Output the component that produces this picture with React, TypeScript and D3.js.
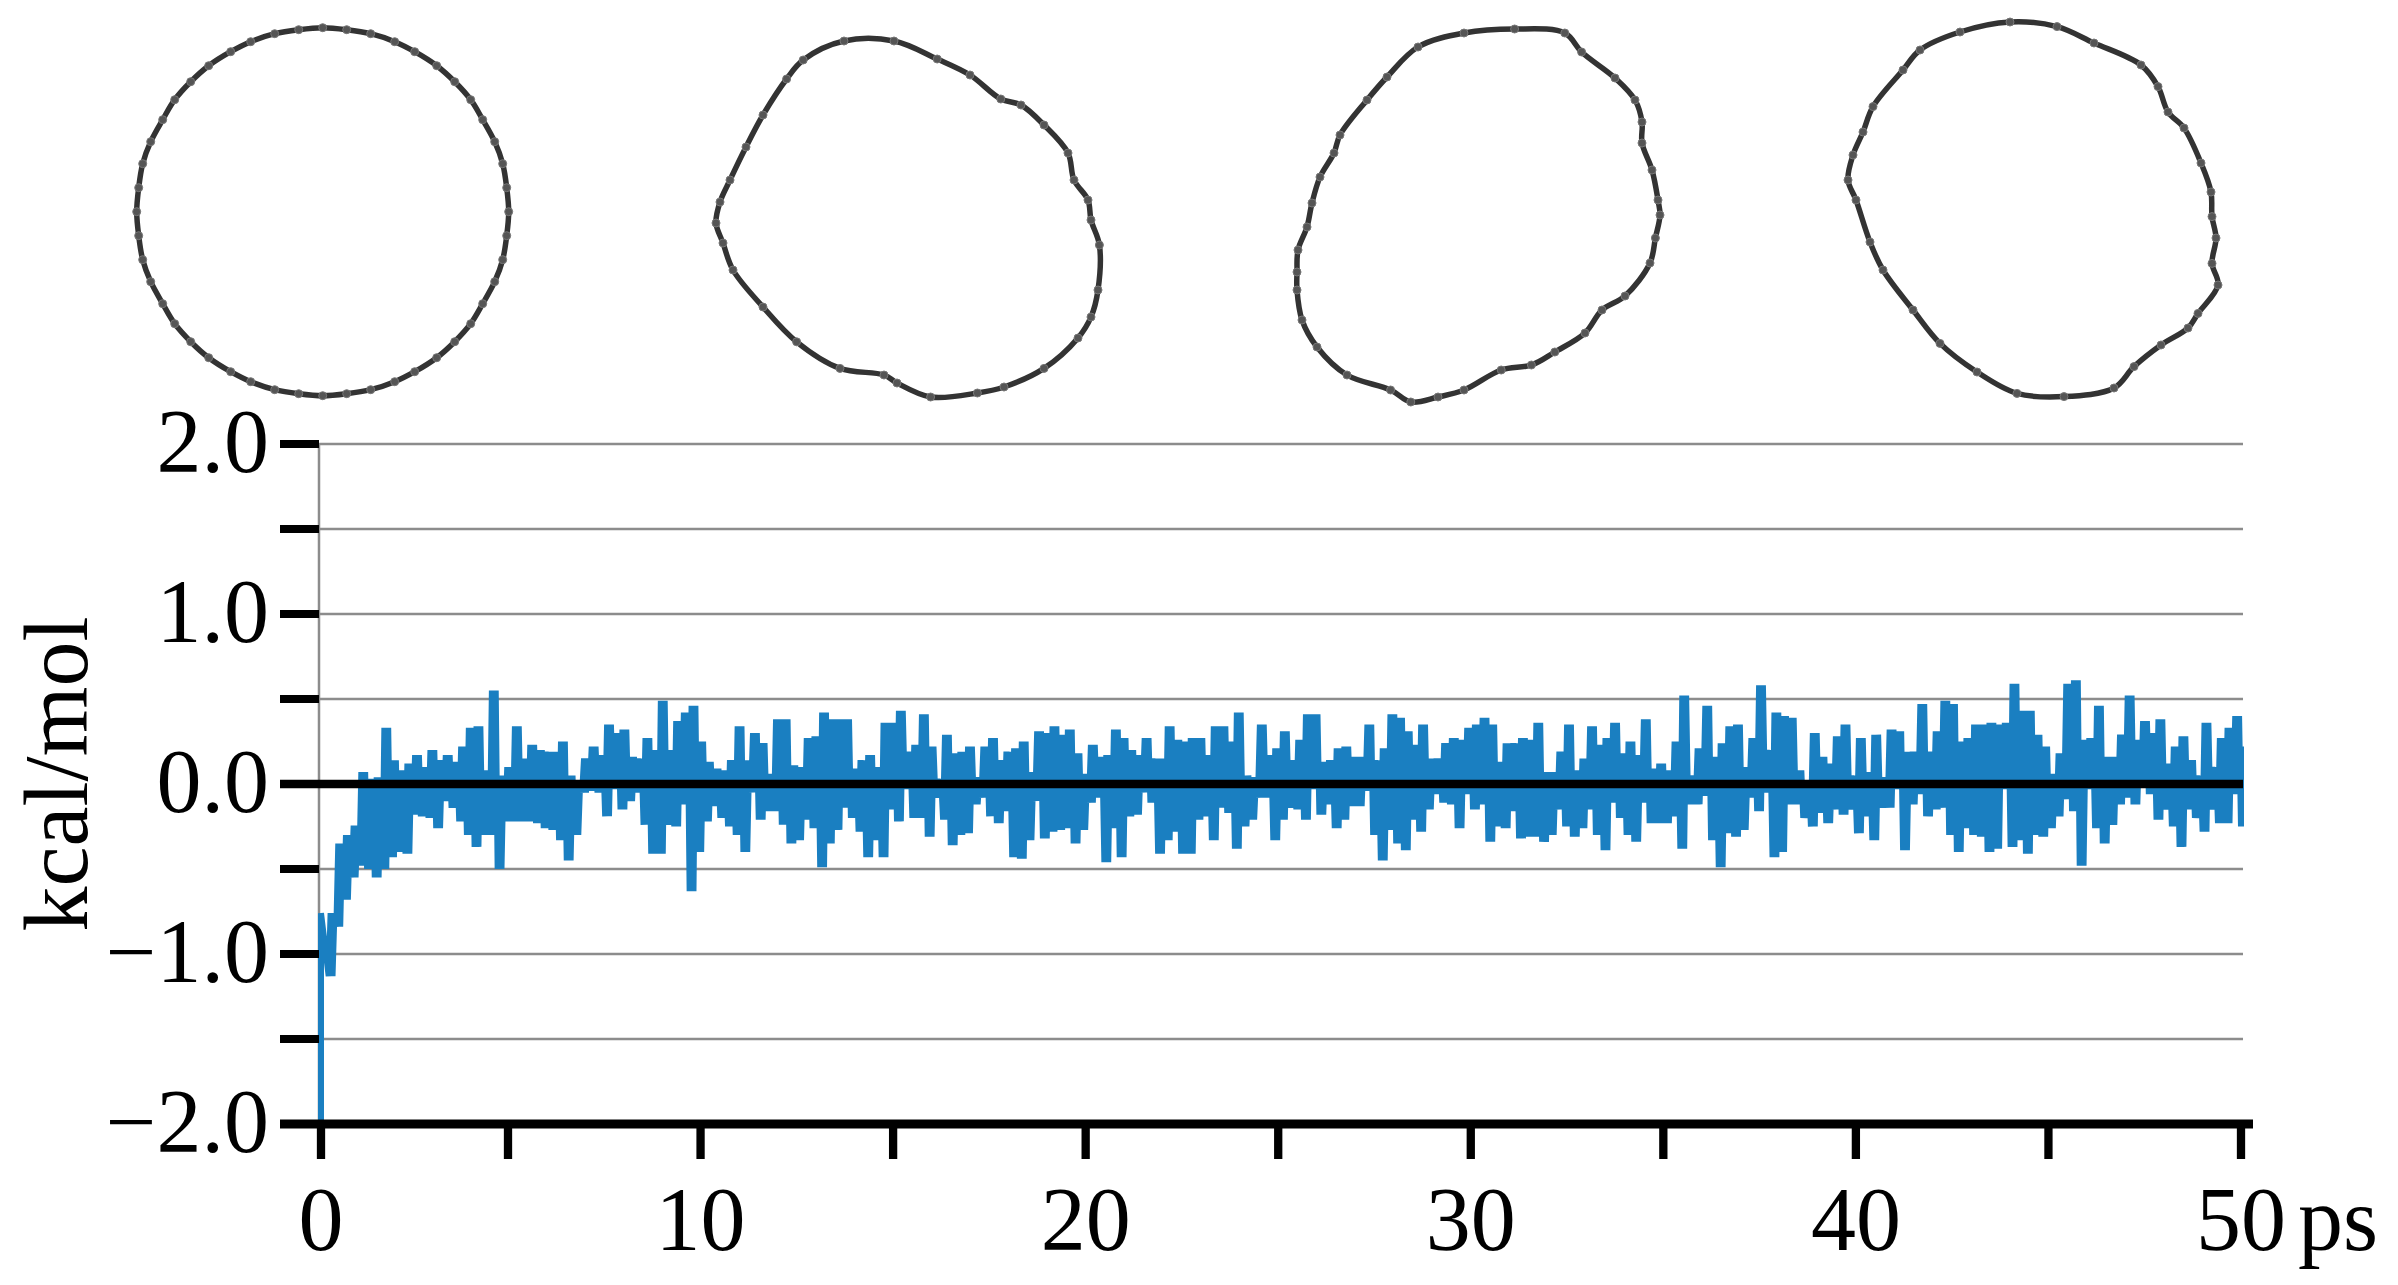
import React from "react";
import * as d3 from "d3";

// kcal/mol trace, every 0.2 ps: highest and lowest value of each short stretch
const upperA = [-0.76,-0.76,-0.35,-0.30,-0.245,0.07,0.03,0.04,0.33,0.14,0.08,0.12,0.17,0.10,0.20,0.14,0.17,0.13,0.22,0.33,0.34,0.08,0.55,0.05,0.10,0.34,0.15,0.23,0.20,0.19,0.19,0.25,0.05,0.02,0.15,0.22,0.17,0.35,0.30,0.32,0.16,0.15,0.27];
const lowerA = [-2.0,-1.13,-0.84,-0.68,-0.55,-0.48,-0.50,-0.55,-0.50,-0.43,-0.40,-0.41,-0.18,-0.19,-0.20,-0.26,-0.10,-0.14,-0.22,-0.30,-0.37,-0.30,-0.30,-0.50,-0.22,-0.22,-0.22,-0.22,-0.23,-0.26,-0.27,-0.33,-0.45,-0.30,-0.05,-0.04,-0.05,-0.19,-0.03,-0.15,-0.10,-0.05,-0.24];
const upperB = [.20,.49,.20,.37,.42,.46,.25,.13,.09,.08,.14,.34,.14,.30,.24,.06,.38,.38,.11,.10,.27,.28,.42,.38,.38,.38,.09,.14,.17,.10,.36,.36,.43,.19,.23,.41,.22,.03,.29,.18,.19];
const lowerB = [-.41,-.41,-.24,-.25,-.12,-.63,-.40,-.22,-.13,-.20,-.25,-.30,-.40,-.05,-.21,-.16,-.16,-.24,-.35,-.33,-.21,-.26,-.49,-.35,-.27,-.14,-.20,-.28,-.43,-.33,-.43,-.15,-.22,-.03,-.20,-.20,-.31,-.08,-.21,-.36,-.30];
const upperC = [.22,.04,.22,.27,.14,.19,.21,.25,.07,.31,.30,.34,.29,.32,.18,.06,.23,.16,.17,.32,.27,.20,.17,.27,.15,.15,.34,.26,.25,.27,.27,.17,.34,.34,.25,.42,.05,.04,.35,.17,.21,.31];
const lowerC = [-.29,-.12,-.08,-.19,-.23,-.16,-.43,-.44,-.33,-.10,-.32,-.28,-.27,-.26,-.35,-.27,-.11,-.08,-.46,-.26,-.43,-.19,-.18,-.05,-.11,-.41,-.33,-.28,-.41,-.41,-.21,-.19,-.33,-.14,-.17,-.38,-.25,-.21,-.08,-.08,-.33,-.21];
const upperD = [.14,.26,.41,.41,.13,.14,.21,.22,.16,.16,.35,.14,.21,.41,.39,.31,.23,.35,.15,.15,.24,.27,.26,.33,.35,.39,.35,.13,.24,.24,.27,.26,.36,.07,.07,.19,.35,.08,.15,.34,.23];
const lowerD = [-.14,-.15,-.21,-.03,-.18,-.12,-.26,-.21,-.13,-.13,-.04,-.30,-.45,-.27,-.35,-.39,-.21,-.28,-.15,-.06,-.11,-.12,-.26,-.06,-.15,-.12,-.34,-.25,-.26,-.16,-.32,-.31,-.31,-.34,-.30,-.15,-.25,-.31,-.26,-.15,-.30];
const upperE = [.27,.36,.18,.25,.17,.38,.09,.12,.08,.25,.52,.05,.21,.46,.16,.24,.34,.35,.10,.27,.58,.20,.42,.40,.39,.08,.02,.30,.16,.12,.28,.35,.05,.27,.07,.29,.04,.32,.31,.19,.19,.47];
const lowerE = [-.39,-.11,-.20,-.30,-.34,-.11,-.23,-.23,-.23,-.19,-.38,-.12,-.12,-.07,-.33,-.49,-.29,-.31,-.27,-.08,-.16,-.05,-.43,-.40,-.12,-.12,-.20,-.25,-.17,-.23,-.15,-.18,-.15,-.29,-.19,-.33,-.14,-.14,-.03,-.39,-.12,-.06];
const upperF = [.19,.31,.49,.47,.25,.27,.35,.35,.36,.35,.36,.59,.43,.43,.29,.22,.06,.18,.59,.61,.26,.27,.46,.16,.16,.29,.52,.26,.37,.30,.38,.12,.22,.28,.14,.05,.36,.10,.27,.33,.40,.22];
const lowerF = [-.19,-.15,-.14,-.30,-.40,-.26,-.30,-.31,-.40,-.38,-.03,-.37,-.33,-.41,-.30,-.31,-.26,-.19,-.09,-.16,-.48,-.03,-.26,-.35,-.24,-.12,-.08,-.12,-.02,-.06,-.21,-.15,-.25,-.37,-.15,-.20,-.28,-.15,-.23,-.23,-.06,-.25];

const sampleStep = 0.2;
const yGridValues = [2, 1.5, 1, 0.5, -0.5, -1, -1.5];
const yTickValues = [2, 1.5, 1, 0.5, 0, -0.5, -1, -1.5, -2];
const yLabelValues = [2, 1, 0, -1, -2];
const xTickValues = [0, 5, 10, 15, 20, 25, 30, 35, 40, 45, 50];
const xLabelValues = [0, 10, 20, 30, 40, 50];

// Ring outlines, in ring units around each ring's own centre
const ringOneX = [0,12,24,36,46,57,66,74,80,86,90,92,93,92,90,86,80,74,66,57,46,36,24,12,0,-12,-24,-36,-46,-57,-66,-74,-80,-86,-90,-92,-93,-92,-90,-86,-80,-74,-66,-57,-46,-36,-24,-12];
const ringOneY = [-92,-91,-89,-85,-80,-73,-65,-56,-46,-35,-24,-12,0,12,24,35,46,56,65,73,80,85,89,91,92,91,89,85,80,73,65,56,46,35,24,12,0,-12,-24,-35,-46,-56,-65,-73,-80,-85,-89,-91];
const ringTwoX = [-32,-7,14.6,31,46.4,56.5,68,80,83,90,91.5,95.7,95,91.5,85,68,48,34.7,11.3,-5.5,-12,-34,-55.7,-72.5,-87.5,-92.5,-96,-94,-89,-81,-72.5,-60.7,-52.4];
const ringTwoY = [-88,-88,-79,-71,-59,-56,-46,-32,-18.5,-8.5,1.5,14,36.5,50,60.5,75.7,85,88,90,83,79,75.7,62.4,45,26.5,13,3,-7.5,-18.5,-35,-51,-69,-78.5];
const ringThreeX = [18.3,43.4,51.8,68.5,78.5,82,82,87,90,91,88.7,86,73.5,62,53.5,38.4,26.7,11.6,-7,-20,-33.6,-43.7,-65.5,-80.5,-88,-90.5,-90.5,-90,-85.5,-83,-79,-72,-69,-55.5,-45.5,-30,-7];
const ringThreeY = [-93.5,-91.5,-82,-69,-58,-47,-36.5,-23,-8,-0.5,11,23.5,40,47,58.5,68,74.5,77,87,90.5,93,87,79.5,65.5,52,37,28,17,5.5,-6.5,-19.5,-31.5,-40.5,-58,-69.5,-84.5,-91.5];
const ringFourX = [-11,12.5,31,54.5,63,68,76,84.5,89.5,90,92,90,93,83,78,64.5,51,41,16,-7.5,-27.5,-46,-59.5,-74.5,-81,-88,-92,-89.5,-84.5,-79.5,-64.5,-56,-36];
const ringFourY = [-94,-91.7,-83.5,-72.5,-61.7,-49,-41,-23.5,-9,3.3,14,26.7,37.5,51.7,59,67.5,78.3,89,93.3,91.7,81,66.7,50,30,16,-5,-15,-27.5,-39,-51.7,-70,-80,-89];

const rings = [
  { xs: ringOneX, ys: ringOneY, cx: 322.7, cy: 211.7 },
  { xs: ringTwoX, ys: ringTwoY, cx: 908, cy: 217 },
  { xs: ringThreeX, ys: ringThreeY, cx: 1478, cy: 216 },
  { xs: ringFourX, ys: ringFourY, cx: 2032, cy: 210 },
];

const FONT = "'Liberation Serif', 'Times New Roman', serif";
const FONT_SIZE = 90;
const BLUE = "#1a7fc1";
const GRID = "#8c8c8c";

const xScale = d3.scaleLinear().domain([0, 50]).range([321, 2241]);
const xTickScale = d3.scaleLinear().domain([0, 5, 50]).range([321, 508, 2241]);
const yScale = d3.scaleLinear().domain([-2, 2]).range([1124, 444]);

const fmt = (v: number) => (v < 0 ? "\u2212" : "") + Math.abs(v).toFixed(1);

export default function App() {
  const upper = [...upperA, ...upperB, ...upperC, ...upperD, ...upperE, ...upperF];
  const lower = [...lowerA, ...lowerB, ...lowerC, ...lowerD, ...lowerE, ...lowerF];
  // Each 0.2 ps stretch swings between its low and high values twice, so it reads as a solid block.
  // The opening rise from -2 and the last sample are single strokes.
  const trace: [number, number][] = [];
  upper.forEach((u, i) => {
    const t = i * sampleStep;
    const single = i === 0 || i === upper.length - 1;
    trace.push([t, lower[i]]);
    trace.push([single ? t : t + sampleStep * 0.25, u]);
    if (!single) {
      trace.push([t + sampleStep * 0.5, lower[i]]);
      trace.push([t + sampleStep * 0.75, u]);
    }
  });
  const tracePath = d3
    .line<[number, number]>()
    .x((d) => xScale(d[0]))
    .y((d) => yScale(d[1]))(trace) as string;

  return (
    <svg
      width={2398}
      height={1285}
      viewBox="0 0 2398 1285"
      style={{ position: "absolute", left: 0, top: 0, display: "block", background: "#fff" }}
    >
      {rings.map((r, k) => {
        const rx = d3.scaleLinear().domain([-100, 100]).range([r.cx - 200, r.cx + 200]);
        const ry = d3.scaleLinear().domain([-100, 100]).range([r.cy - 200, r.cy + 200]);
        const pts = r.xs.map((x, i) => [x, r.ys[i]] as [number, number]);
        const path = d3
          .line<[number, number]>()
          .x((d) => rx(d[0]))
          .y((d) => ry(d[1]))
          .curve(d3.curveCatmullRomClosed.alpha(0.5))(pts) as string;
        return (
          <g key={k}>
            <path d={path} fill="none" stroke="#333" strokeWidth={5.5} strokeLinejoin="round" />
            {pts.map((p, i) => (
              <circle key={i} cx={rx(p[0])} cy={ry(p[1])} r={4} fill="#555" stroke="#777" strokeWidth={1} />
            ))}
          </g>
        );
      })}

      {yGridValues.map((v) => (
        <line key={v} x1={319} x2={2243} y1={yScale(v)} y2={yScale(v)} stroke={GRID} strokeWidth={2.5} />
      ))}
      <line x1={319} x2={319} y1={yScale(2)} y2={yScale(-2)} stroke={GRID} strokeWidth={2.5} />

      <path d={tracePath} fill="none" stroke={BLUE} strokeWidth={6} strokeLinejoin="bevel" />

      <line x1={280} x2={2243} y1={yScale(0)} y2={yScale(0)} stroke="#000" strokeWidth={8.5} />
      {yTickValues.map((v) => (
        <line key={v} x1={280} x2={319} y1={yScale(v)} y2={yScale(v)} stroke="#000" strokeWidth={8} />
      ))}
      <line x1={280} x2={2253} y1={yScale(-2)} y2={yScale(-2)} stroke="#000" strokeWidth={9} />
      {xTickValues.map((v) => (
        <line key={v} x1={xTickScale(v)} x2={xTickScale(v)} y1={yScale(-2)} y2={1159} stroke="#000" strokeWidth={8.3} />
      ))}

      <g fontFamily={FONT} fontSize={FONT_SIZE} fill="#000">
        {yLabelValues.map((v) => (
          <text key={v} x={269} y={yScale(v) + 28} textAnchor="end">
            {fmt(v)}
          </text>
        ))}
        {xLabelValues.map((v) => (
          <text key={v} x={xTickScale(v)} y={1250} textAnchor="middle">
            {v}
          </text>
        ))}
        <text x={2298} y={1250}>ps</text>
        <text transform="translate(87,774) rotate(-90)" textAnchor="middle">kcal/mol</text>
      </g>
    </svg>
  );
}
